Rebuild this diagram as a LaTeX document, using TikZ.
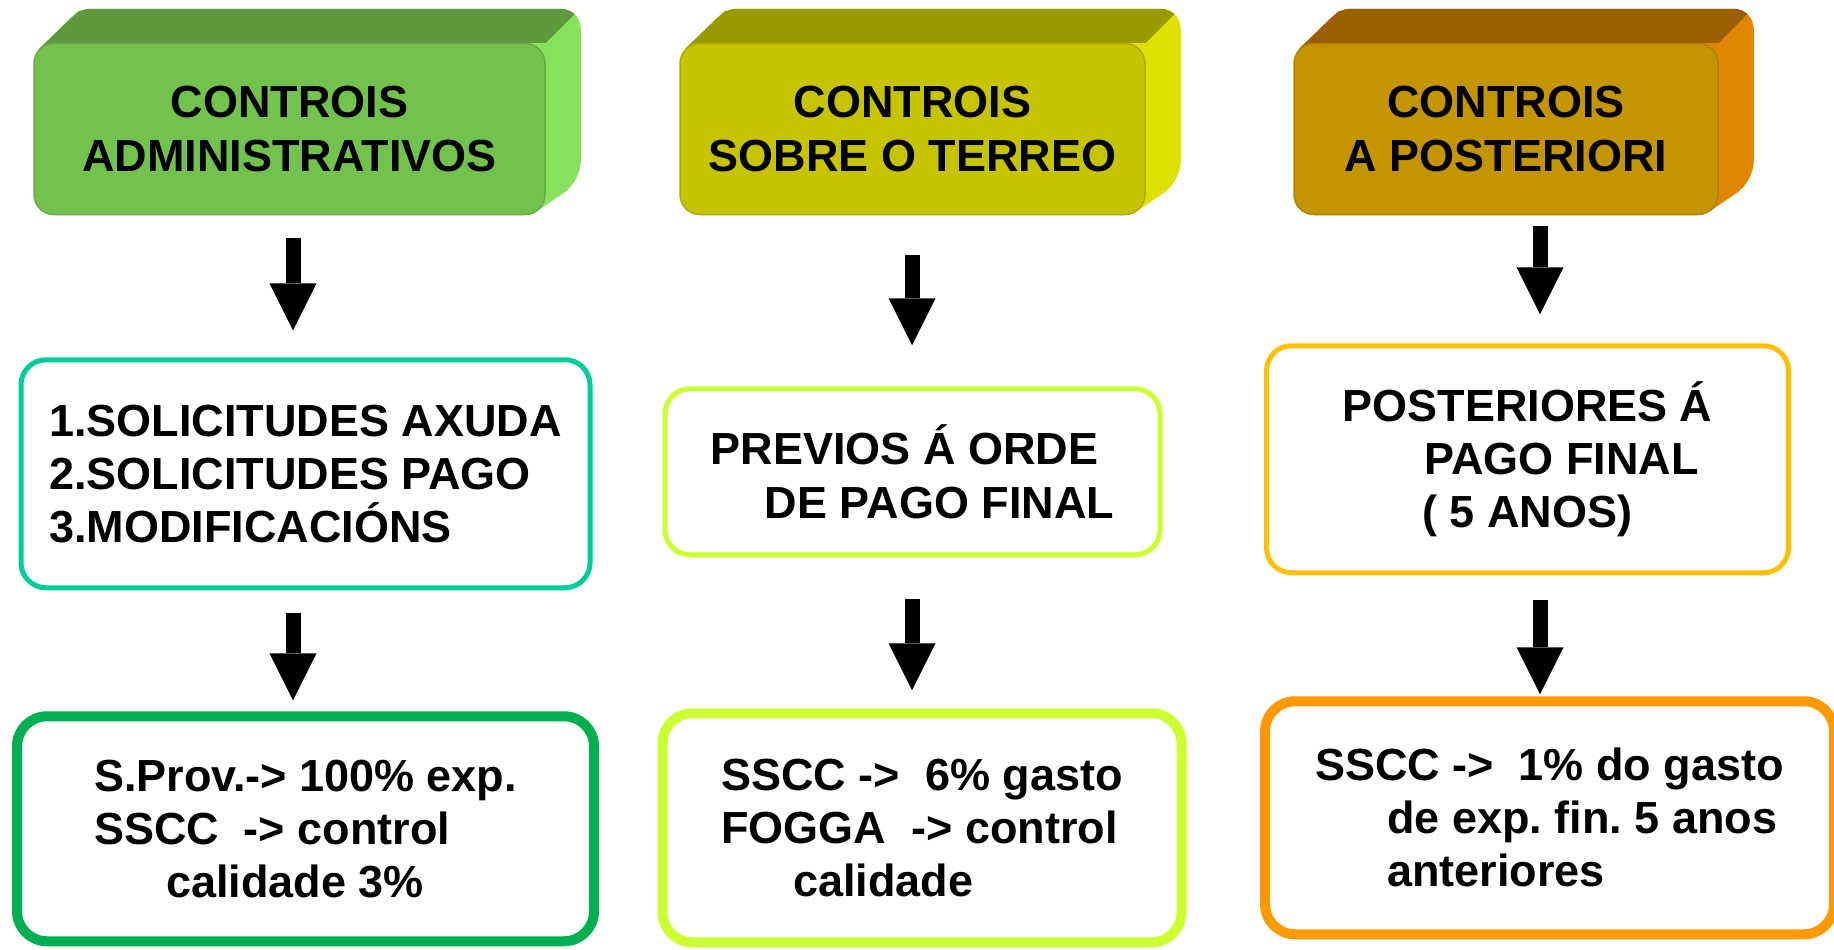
\documentclass[tikz,border=0pt]{standalone}
\usepackage{fontspec}
\setmainfont{Liberation Sans}
\usepackage{tikz}
\usetikzlibrary{positioning,arrows.meta,backgrounds}
\definecolor{greenfront}{RGB}{116,194,78}
\definecolor{greentop}{RGB}{94,154,60}
\definecolor{greenside}{RGB}{136,224,92}
\definecolor{olivefront}{RGB}{198,196,0}
\definecolor{olivetop}{RGB}{153,153,0}
\definecolor{oliveside}{RGB}{224,224,0}
\definecolor{amberfront}{RGB}{196,149,0}
\definecolor{ambertop}{RGB}{154,95,0}
\definecolor{amberside}{RGB}{224,134,0}
\definecolor{tealline}{RGB}{0,204,153}
\definecolor{limeline}{RGB}{204,255,51}
\definecolor{goldline}{RGB}{255,192,0}
\definecolor{greenline}{RGB}{0,176,80}
\definecolor{orangeline}{RGB}{255,153,0}
\tikzstyle{headblock} = [rectangle, rounded corners=0.2cm, minimum height=1.71cm, inner sep=0pt, line width=0.015cm, align=center, font=\bfseries\fontsize{12.8}{15.6}\selectfont]
\tikzstyle{midblock} = [rectangle, rounded corners=0.25cm, draw, fill=white, line width=0.05cm, inner sep=0pt, align=left, font=\bfseries\fontsize{12.8}{15.1}\selectfont]
\tikzstyle{lowblock} = [rectangle, rounded corners=0.3cm, draw, fill=white, line width=0.1cm, inner sep=0pt, align=left, font=\bfseries\fontsize{12.8}{15.1}\selectfont]
\tikzstyle{bigarrow} = [draw, line width=0.15cm, -{Triangle[width=0.47cm, length=0.47cm, line width=0pt]}]
\frenchspacing

\begin{document}
\begin{tikzpicture}[node distance = 1.5cm, auto]
				\useasboundingbox (0,0) rectangle (18.34,-9.49);
				% Place nodes
				\node [headblock, fill=greenfront, draw=greenfront!88!black, minimum width=5.11cm] (t1) at (2.895,-1.29) {CONTROIS\\ADMINISTRATIVOS};
				\node [headblock, fill=olivefront, draw=olivefront!88!black, minimum width=4.65cm] (t2) at (9.125,-1.29) {CONTROIS\\SOBRE O TERREO};
				\node [headblock, fill=amberfront, draw=amberfront!88!black, minimum width=4.24cm] (t3) at (15.06,-1.29) {CONTROIS\\A POSTERIORI};
				\node [midblock, draw=tealline, below = 1.42cm of t1, xshift=0.16cm, minimum width=5.69cm, minimum height=2.28cm] (m1) {1.SOLICITUDES AXUDA\\2.SOLICITUDES PAGO\\3.MODIFICACIÓNS};
				\node [midblock, draw=limeline, below = 1.71cm of t2, minimum width=4.95cm, minimum height=1.66cm] (m2) {PREVIOS Á ORDE\\\hspace*{0.54cm}DE PAGO FINAL};
				\node [midblock, draw=goldline, below = 1.28cm of t3, xshift=0.215cm, minimum width=5.22cm, minimum height=2.27cm] (m3) {POSTERIORES Á\\\hspace*{0.82cm}PAGO FINAL\\\hspace*{0.80cm}( 5 ANOS)};
				\node [lowblock, draw=greenline, below = 1.21cm of m1, minimum width=5.77cm, minimum height=2.25cm] (b1) {S.Prov.-> 100\% exp.\\SSCC\ \ -> control\\\hspace*{0.72cm}calidade 3\%};
				\node [lowblock, draw=limeline, below = 1.51cm of m2, xshift=0.095cm, minimum width=5.19cm, minimum height=2.29cm] (b2) {SSCC ->\ \ 6\% gasto\\FOGGA\ \ -> control\\\hspace*{0.72cm}calidade};
				\node [lowblock, draw=orangeline, below = 1.21cm of m3, xshift=0.22cm, minimum width=5.69cm, minimum height=2.33cm] (b3) {SSCC ->\ \ 1\% do gasto\\\hspace*{0.72cm}de exp. fin. 5 anos\\\hspace*{0.72cm}anteriores};
				% sides of the header blocks
				\begin{scope}[on background layer]
				\foreach \b/\topc/\sidec in {t1/greentop/greenside, t2/olivetop/oliveside, t3/ambertop/amberside} {
					\begin{scope}
					\path [clip] ([shift={(0.06,-0.06)}]\b.north west) [rounded corners=0.08cm] -- ([shift={(0.41,0.28)}]\b.north west) -- ([shift={(0.49,0.34)}]\b.north west) [rounded corners=0.2cm] -- ([shift={(0.35,0.34)}]\b.north east) -- ([shift={(0.35,0.34)}]\b.south east) [sharp corners] -- ([shift={(-0.06,0.06)}]\b.south east) -- ([shift={(0.1,0.1)}]\b.south west) -- cycle;
					\fill [fill=\sidec] ([shift={(0,0.5)}]\b.north west) rectangle ([shift={(0.5,0)}]\b.south east);
					\fill [fill=\topc] ([shift={(0.06,-0.06)}]\b.north west) -- ([shift={(0.41,0.28)}]\b.north west) -- ([shift={(0.5,0.5)}]\b.north west) -- ([shift={(0.5,0.5)}]\b.north east) -- (\b.north east) -- cycle;
					\end{scope}
				}
				\end{scope}
				% arrow columns
				\coordinate (c1) at (2.93,0);
				\coordinate (c2) at (9.12,0);
				\coordinate (c3) at (15.40,0);
				\path [bigarrow, shorten <=0.23cm, shorten >=0.27cm] (t1.south -| c1) -- (m1.north -| c1);
				\path [bigarrow, shorten <=0.40cm, shorten >=0.41cm] (t2.south -| c2) -- (m2.north -| c2);
				\path [bigarrow, shorten <=0.11cm, shorten >=0.29cm] (t3.south -| c3) -- (m3.north -| c3);
				\path [bigarrow, shorten <=0.23cm, shorten >=0.11cm] (m1.south -| c1) -- (b1.north -| c1);
				\path [bigarrow, shorten <=0.42cm, shorten >=0.18cm] (m2.south -| c2) -- (b2.north -| c2);
				\path [bigarrow, shorten <=0.25cm, shorten >=0.02cm] (m3.south -| c3) -- (b3.north -| c3);
\end{tikzpicture}
\end{document}
